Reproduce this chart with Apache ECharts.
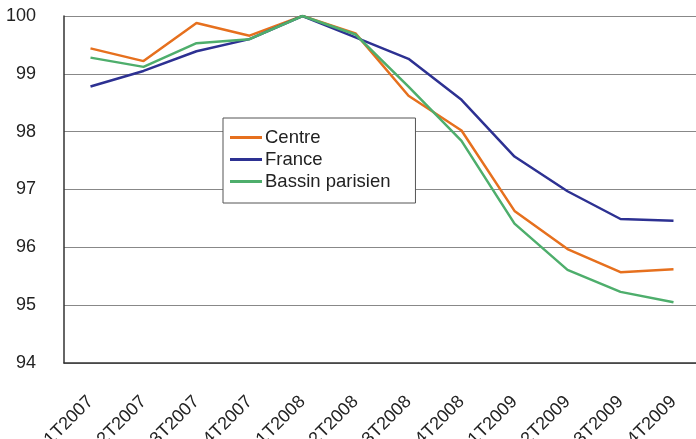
<!DOCTYPE html>
<html>
<head>
<meta charset="utf-8">
<script src="https://cdn.jsdelivr.net/npm/echarts@6/dist/echarts.min.js"></script>
<style>
  html, body { margin: 0; padding: 0; background: #fff; }
  #chart { width: 696px; height: 439px; }
</style>
</head>
<body>
<div id="chart"></div>
<script>
// Quarterly index, 1T2008 = 100
const quarters = ['1T2007','2T2007','3T2007','4T2007','1T2008','2T2008','3T2008','4T2008','1T2009','2T2009','3T2009','4T2009'];
const centre = [99.44, 99.22, 99.88, 99.66, 100, 99.70, 98.62, 98.02, 96.63, 95.97, 95.57, 95.62];
const france = [98.78, 99.05, 99.39, 99.60, 100, 99.63, 99.26, 98.55, 97.57, 96.97, 96.49, 96.46];
const bassin = [99.28, 99.12, 99.53, 99.60, 100, 99.68, 98.78, 97.84, 96.41, 95.61, 95.23, 95.05];
const yTicks = { min: 94, max: 100, step: 1 };

const font = 'Liberation Sans, Arial, sans-serif';
const chart = echarts.init(document.getElementById('chart'), null, { renderer: 'canvas' });

function line(name, data, color) {
  return {
    name, type: 'line', data,
    symbol: 'none',
    lineStyle: { color, width: 2.5 },
    itemStyle: { color }
  };
}

chart.setOption({
  animation: false,
  backgroundColor: '#fff',
  textStyle: { fontFamily: font },
  grid: { left: 64, top: 16, width: 636, height: 347, containLabel: false, outerBoundsMode: 'none' },
  legend: {
    orient: 'vertical',
    left: 223, top: 118,
    data: ['Centre', 'France', 'Bassin parisien'],
    icon: 'rect',
    itemWidth: 32, itemHeight: 3,
    itemGap: 1,
    padding: [9, 25, 11, 7],
    borderColor: '#555', borderWidth: 1,
    backgroundColor: '#fff',
    textStyle: { fontFamily: font, fontSize: 18.5, color: '#222', lineHeight: 21, padding: [0, 0, 0, -2] }
  },
  xAxis: {
    type: 'category',
    data: quarters,
    boundaryGap: true,
    axisLine: { lineStyle: { color: '#333', width: 1.5 } },
    axisTick: { inside: true, length: 4, lineStyle: { color: '#333' } },
    axisLabel: { rotate: 45, margin: 36, fontSize: 18, color: '#222', fontFamily: font, interval: 0 },
    splitLine: { show: false }
  },
  yAxis: {
    type: 'value',
    min: yTicks.min, max: yTicks.max, interval: yTicks.step,
    axisLine: { show: true, lineStyle: { color: '#333', width: 1.5 } },
    axisTick: { show: false },
    axisLabel: { fontSize: 18, color: '#222', margin: 28, fontFamily: font },
    splitLine: { lineStyle: { color: '#888', width: 1.2 } }
  },
  series: [
    line('Centre', centre, '#E6701E'),
    line('France', france, '#2D3192'),
    line('Bassin parisien', bassin, '#4EAE6C')
  ]
});
</script>
</body>
</html>
